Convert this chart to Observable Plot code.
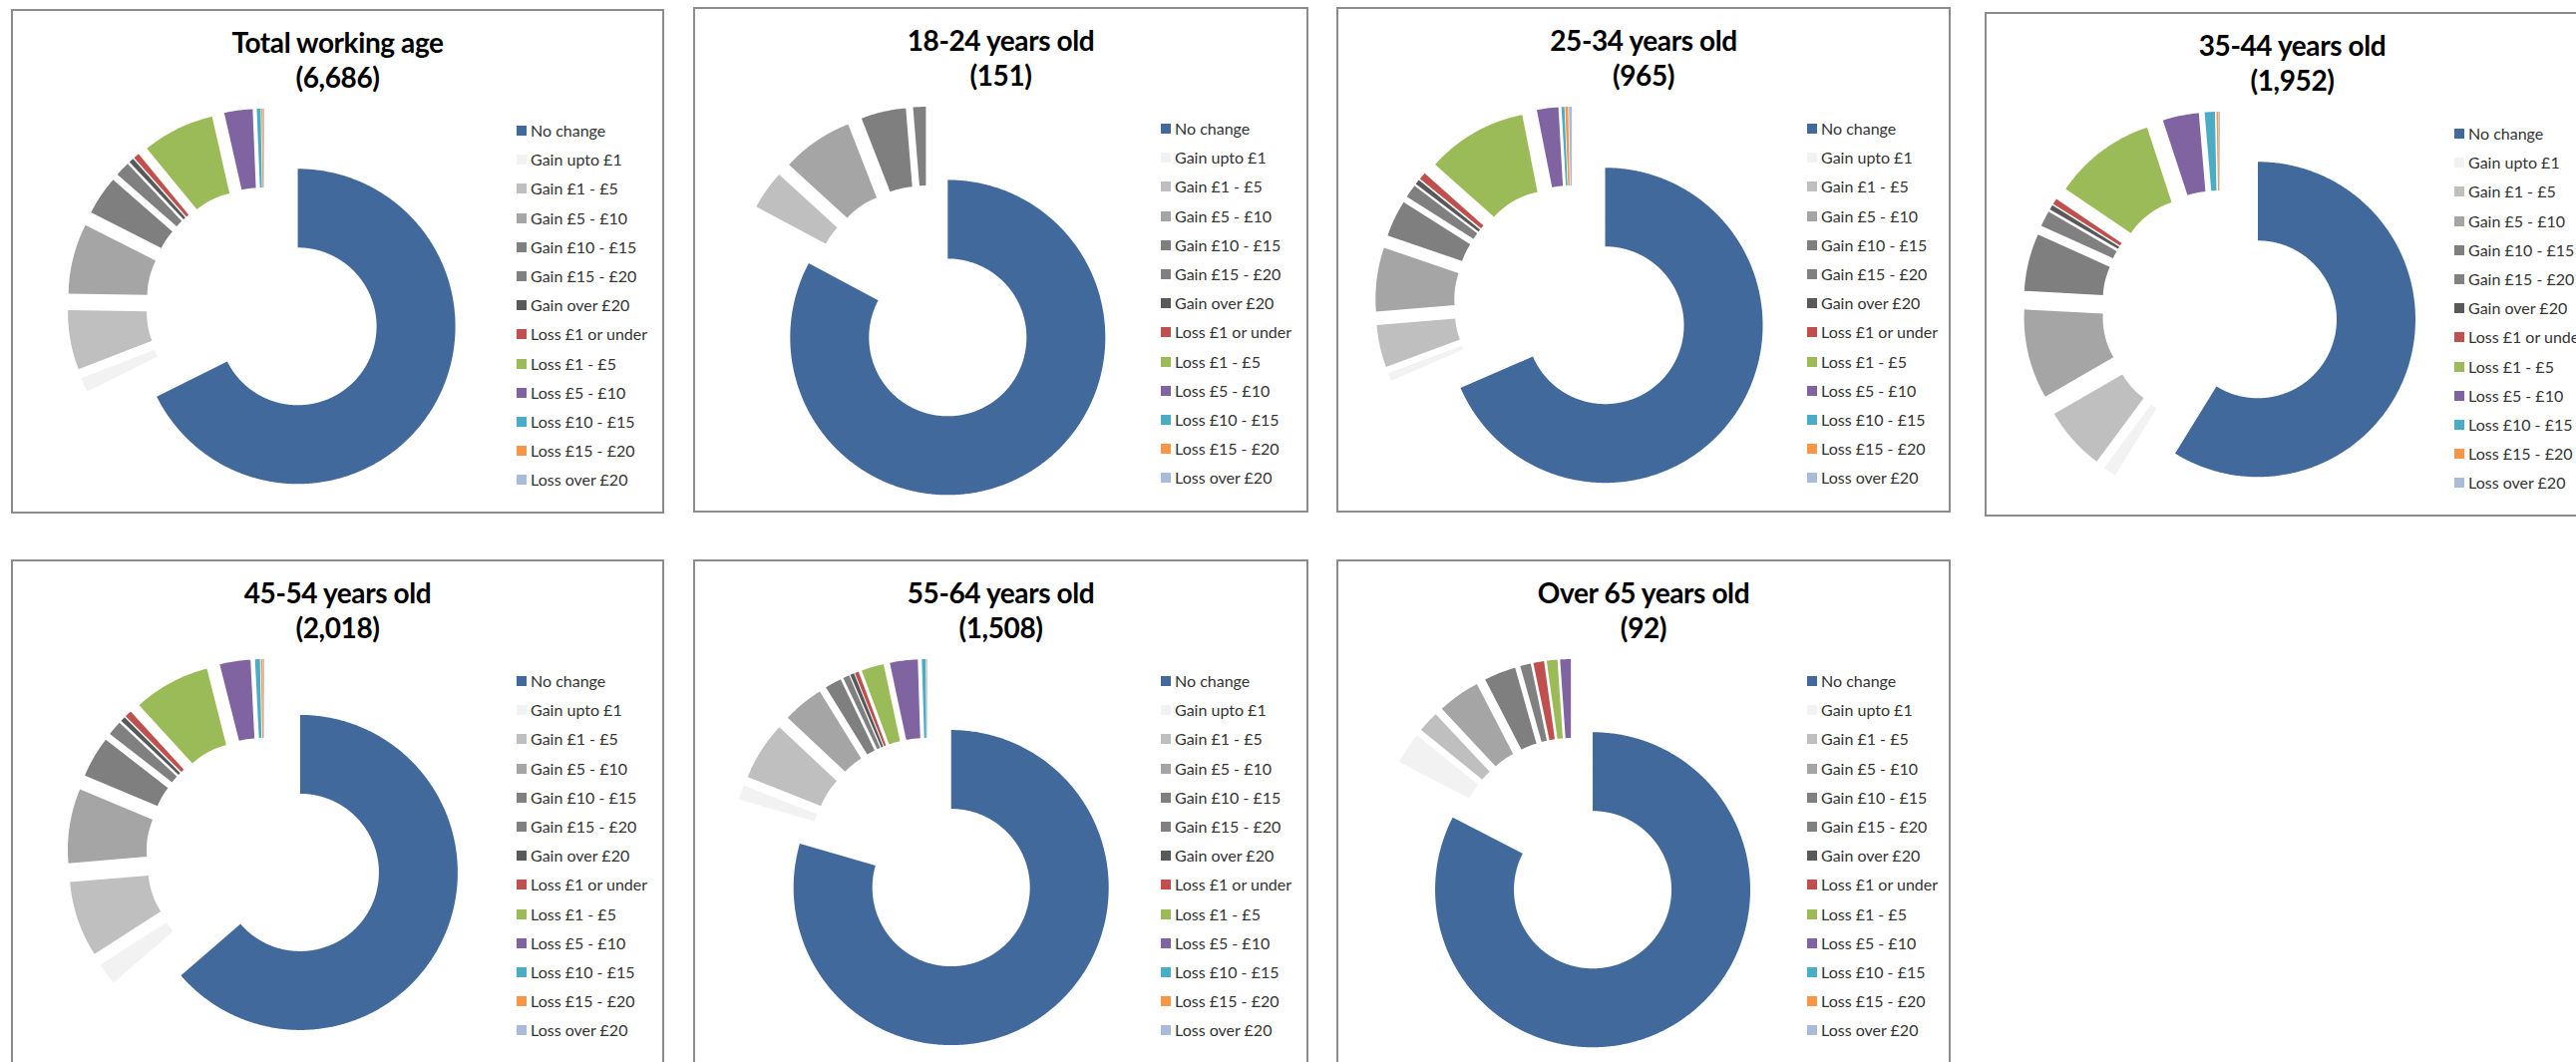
<!DOCTYPE html>
<html><head><meta charset="utf-8">
<script src="https://cdn.jsdelivr.net/npm/d3@7"></script>
<script src="https://cdn.jsdelivr.net/npm/@observablehq/plot@0.6"></script>
<style>
html,body{margin:0;padding:0;background:#fff;}
body{width:2583px;height:1065px;overflow:hidden;position:relative;font-family:Lato,"Open Sans",sans-serif;}
.panel{position:absolute;box-sizing:border-box;border:2px solid #8c8c8c;background:#fff;overflow:hidden;}
.panel svg{position:absolute;left:0;top:0;}
.title{position:absolute;left:0;right:0;text-align:center;font-weight:bold;font-size:28px;color:#000;line-height:35px;white-space:nowrap;letter-spacing:-0.4px;}
.item{position:absolute;white-space:nowrap;font-size:16px;color:#333;line-height:20px;}
.sw{position:absolute;width:10px;height:10px;}
</style></head><body>
<script>
// ---- data ----
const categories = ["No change","Gain upto £1","Gain £1 - £5","Gain £5 - £10","Gain £10 - £15","Gain £15 - £20","Gain over £20","Loss £1 or under","Loss £1 - £5","Loss £5 - £10","Loss £10 - £15","Loss £15 - £20","Loss over £20"];
const colors = ["#41699c","#f2f2f2","#bfbfbf","#a5a5a5","#7f7f7f","#808080","#595959","#c0504d","#9bbb59","#8064a2","#4bacc6","#f79646","#a8bcd9"];
const panelTitles = ["Total working age","18-24 years old","25-34 years old","35-44 years old","45-54 years old","55-64 years old","Over 65 years old"];
const panelCounts = ["6,686","151","965","1,952","2,018","1,508","92"];
// percentage of each group in each category
const totalWorkingAge = [67.65,1.5,6.1,7.2,4.0,1.5,0.5,0.6,7.4,2.9,0.4,0.15,0.1];
const age18to24 = [82.8,0,4.0,7.3,4.6,1.3,0,0,0,0,0,0,0];
const age25to34 = [68.5,0.85,4.35,6.55,3.75,1.35,0.5,0.75,10.3,2.2,0.3,0.3,0.3];
const age35to44 = [58.8,1.35,6.5,9.2,5.9,1.6,0.5,0.6,10.5,3.7,1.05,0.2,0.1];
const age45to54 = [63.65,2.25,7.75,7.65,4.2,1.5,0.5,0.7,7.85,3.15,0.5,0.2,0.1];
const age55to64 = [79.5,1.5,6.0,4.2,1.7,0.65,0.4,0.4,2.3,2.85,0.4,0.05,0.05];
const over65 = [82.6,3.26,2.17,4.35,3.26,1.09,0,1.09,1.09,1.09,0,0,0];
const panelValues = [totalWorkingAge,age18to24,age25to34,age35to44,age45to54,age55to64,over65];

// ---- layout (outer box of each panel, legend x) ----
const layout = [
  {left:11, top:9, w:655, h:506, lg:507},
  {left:695, top:7, w:617, h:507, lg:469},
  {left:1340, top:7, w:616, h:507, lg:472},
  {left:1990, top:12, w:617, h:506, lg:471},
  {left:11, top:561, w:655, h:506, lg:507},
  {left:695, top:561, w:617, h:507, lg:469},
  {left:1340, top:561, w:616, h:507, lg:472}
];
const B = 2;          // border width
const R = 158;        // outer radius in px
const HOLE = 0.5;     // hole size
const EXPLODE = 0.25; // explosion (fraction of radius)
const CY = 297;

function slicePoints(values){
  const total = d3.sum(values);
  let acc = 0;
  const pts = [];
  values.forEach((v,i)=>{
    const a0 = acc/total*2*Math.PI; acc += v; const a1 = acc/total*2*Math.PI;
    if (!(v>0)) return;
    const mid = (a0+a1)/2;
    const ox = EXPLODE*Math.sin(mid), oy = -EXPLODE*Math.cos(mid);
    const n = Math.max(2, Math.ceil((a1-a0)/0.01));
    for (let k=0;k<=n;k++){ const a=a0+(a1-a0)*k/n; pts.push({key:i,cat:categories[i],x:ox+Math.sin(a),y:oy-Math.cos(a)}); }
    for (let k=n;k>=0;k--){ const a=a0+(a1-a0)*k/n; pts.push({key:i,cat:categories[i],x:ox+HOLE*Math.sin(a),y:oy-HOLE*Math.cos(a)}); }
  });
  return pts;
}

layout.forEach((L,p)=>{
  const div = document.createElement("div");
  div.className = "panel";
  Object.assign(div.style,{left:L.left+"px",top:L.top+"px",width:L.w+"px",height:L.h+"px"});
  document.body.appendChild(div);
  const W = L.w-2*B, H = L.h-2*B;
  const cx = L.lg/2 - B, cy = CY - B;
  const chart = Plot.plot({
    width: W, height: H, margin: 0,
    style: {background:"transparent", overflow:"visible"},
    x: {domain:[-cx/R,(W-cx)/R], range:[0,W], axis:null},
    y: {domain:[-cy/R,(H-cy)/R], range:[0,H], axis:null},
    color: {domain: categories, range: colors},
    marks: [
      Plot.line(slicePoints(panelValues[p]), {x:"x", y:"y", z:"key", fill:"cat", stroke:"none", curve:"linear-closed"})
    ]
  });
  div.appendChild(chart);
  const t = document.createElement("div");
  t.className = "title";
  t.style.top = (33 - B - 17.5) + "px";
  t.innerHTML = panelTitles[p] + "<br>(" + panelCounts[p] + ")";
  div.appendChild(t);
  categories.forEach((c,i)=>{
    const yc = 122 + i*29.2 - B;
    const sw = document.createElement("div");
    sw.className = "sw";
    Object.assign(sw.style,{left:(L.lg-B)+"px", top:(yc-5)+"px", background:colors[i]});
    div.appendChild(sw);
    const it = document.createElement("div");
    it.className = "item";
    Object.assign(it.style,{left:(L.lg-B+14)+"px", top:(yc-10)+"px"});
    it.textContent = c;
    div.appendChild(it);
  });
});
</script>
</body></html>
